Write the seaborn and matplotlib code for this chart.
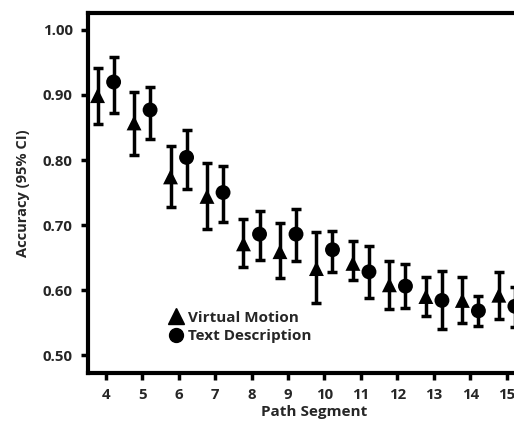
import numpy as np
import pandas as pd
import matplotlib
matplotlib.use("Agg")
import matplotlib.pyplot as plt
import seaborn as sns
from matplotlib.lines import Line2D

segments = [4, 5, 6, 7, 8, 9, 10, 11, 12, 13, 14, 15]
vm_mean = [0.899, 0.857, 0.774, 0.744, 0.671, 0.659, 0.633, 0.641, 0.608, 0.590, 0.584, 0.592]
vm_low = [0.856, 0.808, 0.728, 0.694, 0.635, 0.619, 0.580, 0.616, 0.571, 0.560, 0.550, 0.556]
vm_high = [0.942, 0.904, 0.822, 0.796, 0.710, 0.703, 0.689, 0.675, 0.645, 0.620, 0.620, 0.627]
td_mean = [0.920, 0.877, 0.804, 0.750, 0.686, 0.686, 0.662, 0.628, 0.606, 0.584, 0.568, 0.575]
td_low = [0.873, 0.832, 0.756, 0.704, 0.646, 0.644, 0.628, 0.587, 0.573, 0.540, 0.545, 0.543]
td_high = [0.959, 0.913, 0.846, 0.791, 0.722, 0.725, 0.691, 0.668, 0.640, 0.629, 0.591, 0.605]
conditions = ["Virtual Motion", "Text Description"]
y_ticks = [0.50, 0.60, 0.70, 0.80, 0.90, 1.00]

sns.set_style("ticks")
plt.rcParams['font.family'] = ['Open Sans', 'DejaVu Sans']
plt.rcParams['font.weight'] = 'bold'

fig = plt.figure(figsize=(5.14, 4.22), dpi=100)
ax = fig.add_axes([0.171, 0.116, 0.879, 0.853])

offset = 0.22
df = pd.DataFrame({
    "segment": segments * 2,
    "x": [s - offset for s in segments] + [s + offset for s in segments],
    "mean": vm_mean + td_mean,
    "low": vm_low + td_low,
    "high": vm_high + td_high,
    "condition": [conditions[0]] * len(segments) + [conditions[1]] * len(segments),
})

for cond in conditions:
    d = df[df.condition == cond]
    ax.errorbar(d["x"], d["mean"],
                yerr=[d["mean"] - d["low"], d["high"] - d["mean"]],
                fmt="none", ecolor="black", elinewidth=2.5, capsize=3.8,
                capthick=2.5, zorder=2)

sns.scatterplot(data=df, x="x", y="mean", style="condition",
                markers={"Virtual Motion": "^", "Text Description": "o"},
                color="black", s=115, edgecolor="black", linewidth=0,
                legend=False, ax=ax, zorder=3)

ax.set_xlim(3.515, 15.9)
ax.set_ylim(0.4723, 1.026)
ax.set_xticks(segments)
ax.set_xticklabels([str(s) for s in segments], fontsize=10.8, fontweight='bold')
ax.set_yticks(y_ticks)
ax.set_yticklabels([f"{v:.2f}" for v in y_ticks], fontsize=10.8, fontweight='bold')
ax.set_xlabel("Path Segment", fontsize=11, fontweight='bold', labelpad=2)
ax.set_ylabel("Accuracy (95% CI)", fontsize=10.5, fontweight='bold', labelpad=9)

for side in ["left", "bottom", "top"]:
    ax.spines[side].set_linewidth(3)
    ax.spines[side].set_color("black")
ax.spines["right"].set_visible(False)
ax.tick_params(axis="both", width=2.5, length=5, color="black", pad=6)

handles = [Line2D([], [], marker="^", color="black", linestyle="none", markersize=11),
           Line2D([], [], marker="o", color="black", linestyle="none", markersize=10)]
leg = ax.legend(handles, conditions, loc="lower left", bbox_to_anchor=(0.145, 0.045),
                frameon=False, handletextpad=0.15, labelspacing=0.3,
                prop={"weight": "bold", "size": 11}, handlelength=1.2)

fig.savefig("out.png", dpi=100)
